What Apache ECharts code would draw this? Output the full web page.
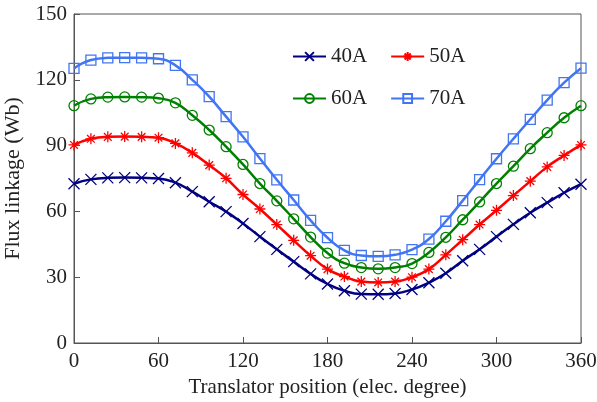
<!DOCTYPE html>
<html>
<head>
<meta charset="utf-8">
<script src="https://cdn.jsdelivr.net/npm/echarts@6/dist/echarts.min.js"></script>
<style>
html,body{margin:0;padding:0;background:#fff;}
#main{width:597px;height:402px;}
</style>
</head>
<body>
<div id="main"></div>
<script>
var positions = [0,12,24,36,48,60,72,84,96,108,120,132,144,156,168,180,192,204,216,228,240,252,264,276,288,300,312,324,336,348,360];
var seriesNames = ['40A','50A','60A','70A'];
var flux40A = [72.6,74.6,75.3,75.4,75.3,75.0,73.1,69.0,64.4,59.9,54.5,48.5,42.7,37.1,31.5,26.9,23.8,22.3,22.2,22.6,24.4,27.5,31.8,37.5,42.7,48.5,54.1,59.4,64.0,68.5,72.4];
var flux50A = [90.3,93.1,94.0,94.1,94.0,93.6,91.0,86.7,81.1,75.1,67.7,61.1,54.0,46.8,39.8,33.7,30.3,28.0,27.6,28.0,30.0,33.7,40.2,47.1,54.0,60.5,67.2,73.8,80.3,85.5,90.3];
var flux60A = [108.2,111.3,112.1,112.2,112.1,111.6,109.5,103.8,97.1,89.5,81.4,72.7,64.8,56.6,48.3,41.0,36.4,34.4,33.8,34.4,36.2,41.3,48.2,56.2,64.3,72.7,80.6,88.6,95.9,102.7,108.2];
var flux70A = [125.2,129.0,130.0,130.1,130.0,129.6,126.6,120.0,112.3,103.2,94.0,84.1,74.4,65.2,55.9,48.0,42.2,39.9,39.5,40.2,42.6,47.4,55.5,64.9,74.5,84.0,93.1,102.0,110.7,118.7,125.3];
var xTicks = [0,60,120,180,240,300,360];
var yTicks = [0,30,60,90,120,150];

function pairs(vals){ return positions.map(function(p,i){ return [p, vals[i]]; }); }

var colors = ['#000080','#ff0000','#008000','#4175f3'];
var symbols = [
  'path://M0,0L10,10M10,0L0,10',
  'path://M5,0L5,10M0,5L10,5M1.5,1.5L8.5,8.5M8.5,1.5L1.5,8.5',
  'path://M10,5A5,5,0,1,1,0,5A5,5,0,1,1,10,5Z',
  'path://M0,0L10,0L10,10L0,10Z'
];
var sizes = [11,11,10,10];
var allData = [flux40A, flux50A, flux60A, flux70A];

var font = 'Liberation Serif, Times New Roman, serif';
var chart = echarts.init(document.getElementById('main'), null, {renderer:'canvas'});
var series = seriesNames.map(function(n,i){
  return {
    name: n, type: 'line', data: pairs(allData[i]), smooth: true,
    symbol: symbols[i], symbolSize: sizes[i],
    lineStyle: {color: colors[i], width: 2.5},
    itemStyle: {color: 'rgba(0,0,0,0)', borderColor: colors[i], borderWidth: 1.3},
    emphasis: {disabled: true}, z: 2 + i
  };
});
var legendCommon = {
  itemWidth: 33, itemHeight: 11, itemGap: 23,
  textStyle: {fontFamily: font, fontSize: 21, color: '#222'},
  selectedMode: false
};
chart.setOption({
  animation: false,
  backgroundColor: '#fff',
  grid: {left: 74, right: 16, top: 14, bottom: 59, show: true, borderColor: '#555', borderWidth: 1,
         containLabel: false, outerBoundsMode: 'none'},
  legend: [
    Object.assign({left: 287, top: 41, data: ['40A','50A']}, legendCommon),
    Object.assign({left: 287, top: 83, data: ['60A','70A']}, legendCommon)
  ],
  xAxis: {
    type: 'value', min: xTicks[0], max: xTicks[xTicks.length-1], interval: 60,
    name: 'Translator position (elec. degree)', nameLocation: 'middle', nameGap: 31,
    nameTextStyle: {fontFamily: font, fontSize: 21, color: '#222'},
    axisLine: {lineStyle: {color: '#555', width: 1}},
    axisTick: {inside: true, length: 6, lineStyle: {color: '#555'}},
    axisLabel: {fontFamily: font, fontSize: 21, color: '#222', margin: 8},
    splitLine: {show: false}
  },
  yAxis: {
    type: 'value', min: yTicks[0], max: yTicks[yTicks.length-1], interval: 30,
    name: 'Flux linkage (Wb)', nameLocation: 'middle', nameGap: 44,
    nameTextStyle: {fontFamily: font, fontSize: 22, color: '#222'},
    axisLine: {lineStyle: {color: '#555', width: 1}},
    axisTick: {inside: true, length: 6, lineStyle: {color: '#555'}},
    axisLabel: {fontFamily: font, fontSize: 21, color: '#222', margin: 7},
    splitLine: {show: false}
  },
  series: series
});
</script>
</body>
</html>
